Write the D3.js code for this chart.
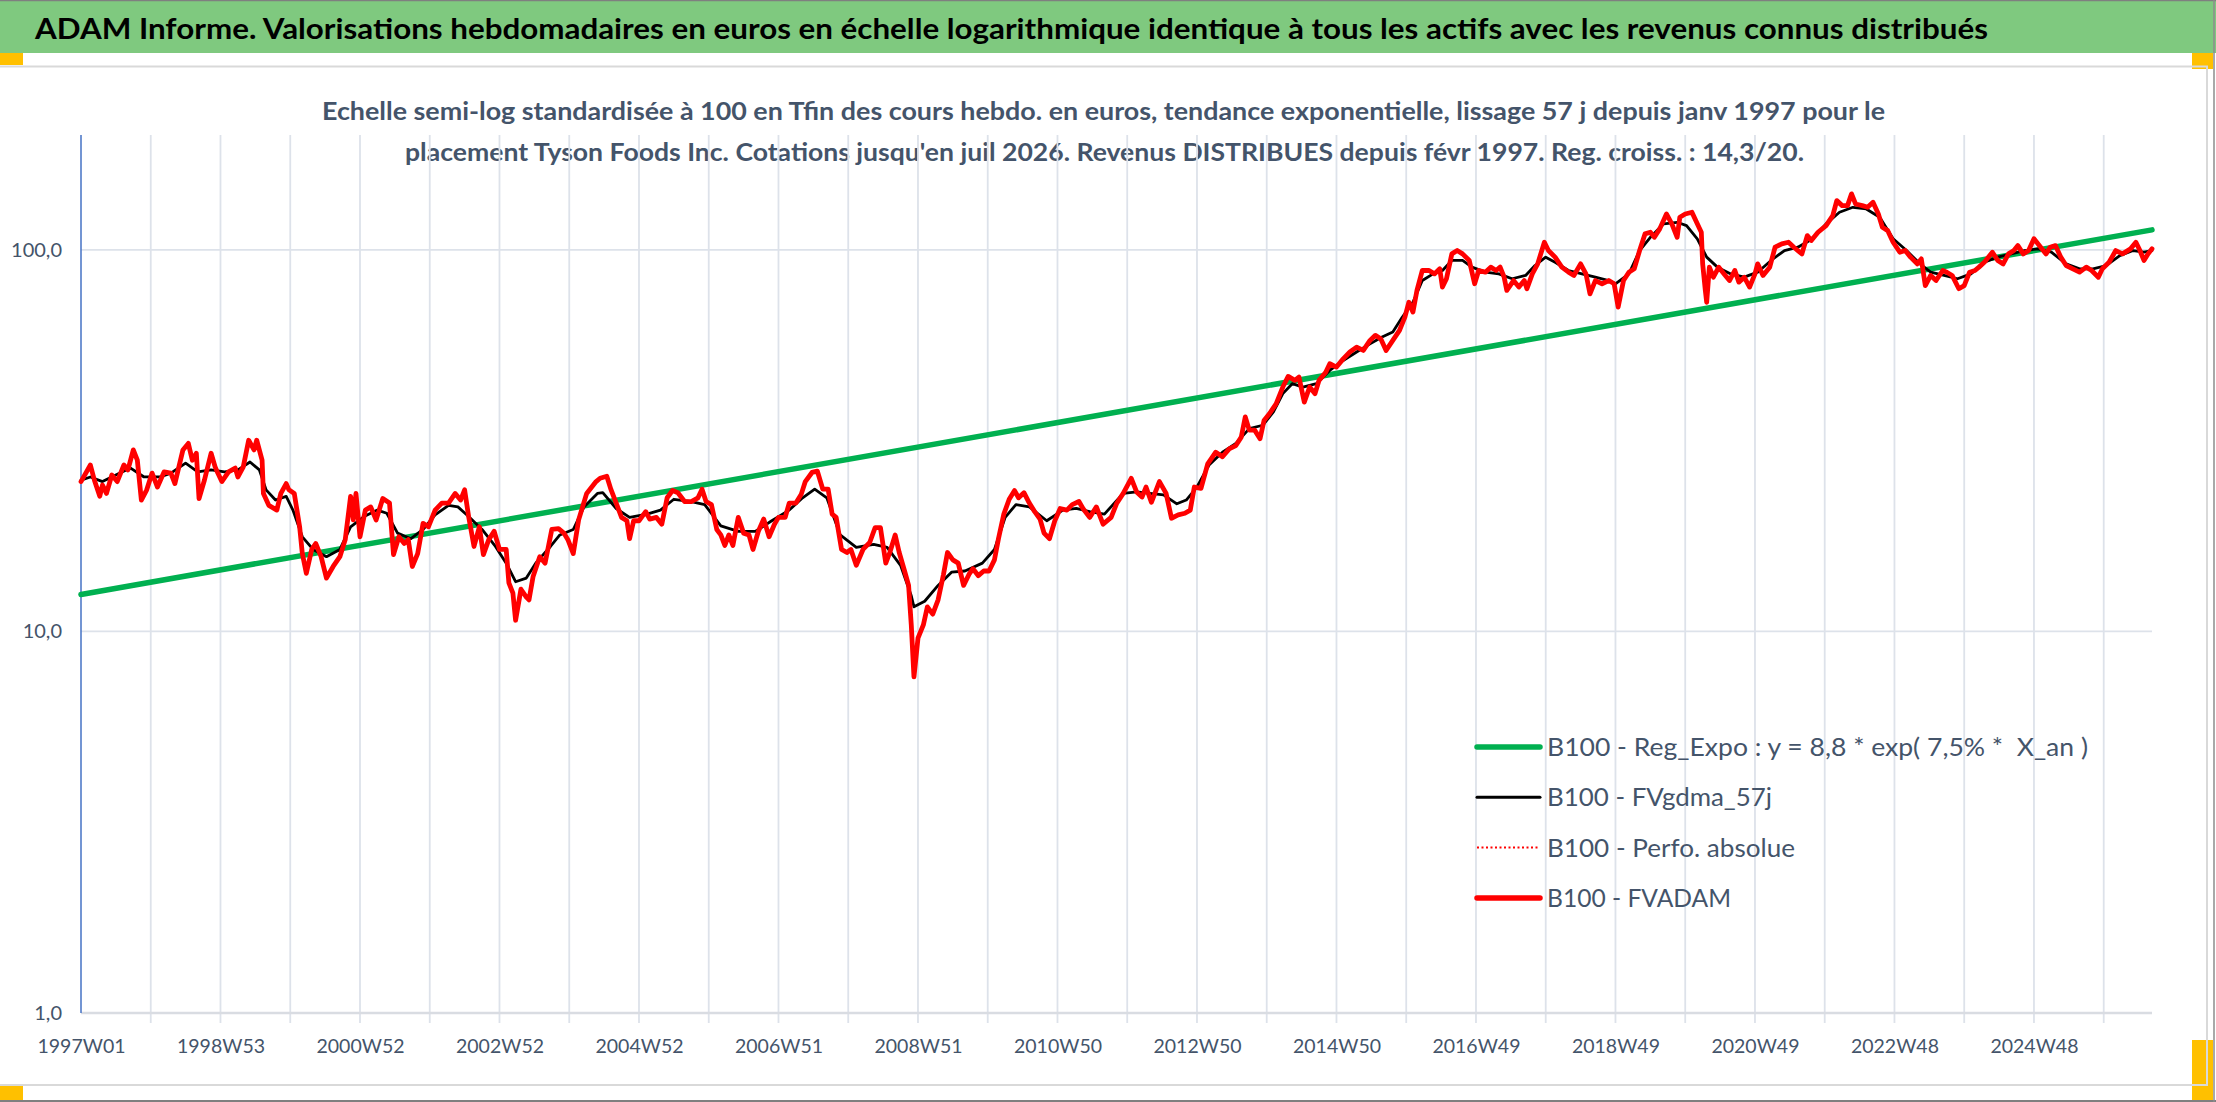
<!DOCTYPE html>
<html>
<head>
<meta charset="utf-8">
<script src="https://cdn.jsdelivr.net/npm/d3@7/dist/d3.min.js"></script>
<style>
  html, body { margin: 0; padding: 0; background: #fff; overflow: hidden; }
  svg text { white-space: pre; }
</style>
</head>
<body>
<div id="chart"></div>
<script>
const titleText = "ADAM Informe. Valorisations hebdomadaires en euros en échelle logarithmique identique à tous les actifs avec les revenus connus distribués"
const subtitleLines = [
    "Echelle semi-log standardisée à 100 en Tfin des cours hebdo. en euros, tendance exponentielle, lissage 57 j depuis janv 1997 pour le",
    "placement Tyson Foods Inc. Cotations jusqu'en juil 2026. Revenus DISTRIBUES depuis févr 1997. Reg. croiss. : 14,3/20."
]
const tickLabels = ["1997W01", "1998W53", "2000W52", "2002W52", "2004W52", "2006W51", "2008W51", "2010W50",
    "2012W50", "2014W50", "2016W49", "2018W49", "2020W49", "2022W48", "2024W48"]
const tickWeeks = [0, 104, 208, 312, 416, 520, 624, 728, 832, 936, 1040, 1144, 1248, 1352, 1456]
const lastWeek = 1544
const yTicks = [1, 10, 100]
const yTickLabels = ["1,0", "10,0", "100,0"]
const legendLabels = [
    "B100 - Reg_Expo : y = 8,8 * exp( 7,5% *  X_an )",
    "B100 - FVgdma_57j",
    "B100 - Perfo. absolue",
    "B100 - FVADAM"
]

// tendance exponentielle (droite en semi-log)
const trendWeeks = [0, 1544]
const trendValues = [12.5, 112.8]

// FVgdma_57j (lissage)
const blackWeeks = [0, 7, 16, 29, 37, 47, 59, 67, 78, 87, 97, 107, 117, 126, 133, 138, 145, 153, 158, 165,
    173, 183, 193, 201, 211, 221, 228, 236, 246, 255, 264, 274, 281, 289, 299, 309, 317, 324, 332, 339,
    350, 357, 367, 375, 385, 389, 399, 409, 422, 432, 442, 455, 465, 477, 490, 503, 515, 528, 538, 547,
    556, 566, 578, 591, 601, 611, 619, 621, 629, 639, 649, 659, 672, 681, 689, 697, 707, 720, 732, 742,
    752, 763, 777, 787, 797, 807, 817, 824, 832, 841, 851, 861, 871, 881, 889, 896, 903, 911, 921, 931,
    941, 951, 961, 970, 978, 985, 993, 1000, 1008, 1015, 1022, 1030, 1037, 1047, 1057, 1067, 1077, 1084, 1092, 1099,
    1109, 1119, 1129, 1139, 1144, 1154, 1162, 1170, 1180, 1190, 1197, 1205, 1212, 1220, 1230, 1240, 1250, 1260, 1270, 1280,
    1291, 1301, 1311, 1321, 1331, 1341, 1351, 1361, 1371, 1379, 1389, 1399, 1409, 1419, 1429, 1439, 1449, 1459, 1469, 1480,
    1490, 1500, 1510, 1520, 1530, 1538, 1544]
const blackValues = [24.9, 25.4, 24.7, 26.0, 26.8, 25.4, 25.4, 26.0, 27.6, 26.2, 26.5, 26.2, 26.5, 27.8, 26.5, 23.5, 22.1, 22.6, 20.8, 17.7,
    16.4, 15.7, 16.4, 18.8, 20.0, 20.8, 20.4, 18.1, 17.5, 18.5, 20.2, 21.4, 21.2, 20.0, 18.5, 16.7, 15.1, 13.5, 13.8, 15.1,
    16.7, 17.9, 18.5, 21.2, 23.0, 23.1, 21.0, 19.9, 20.3, 20.8, 22.2, 21.9, 21.5, 18.9, 18.3, 18.3, 19.5, 20.8, 22.4, 23.6,
    22.4, 17.9, 16.6, 16.9, 16.6, 14.9, 12.4, 11.6, 12.0, 13.2, 14.3, 14.4, 15.1, 16.4, 19.9, 21.5, 21.2, 19.5, 20.8, 21.0,
    20.6, 20.3, 23.0, 23.2, 23.0, 22.8, 21.6, 22.1, 23.9, 27.3, 29.5, 31.1, 34.0, 34.7, 37.6, 42.0, 44.6, 43.7, 44.6, 48.3,
    51.3, 54.0, 56.7, 59.1, 60.9, 66.6, 72.9, 83.1, 86.5, 88.3, 93.8, 93.8, 90.1, 87.4, 86.5, 84.0, 85.7, 91.0, 95.7, 92.8,
    88.3, 86.5, 84.8, 83.1, 81.5, 86.5, 99.6, 107.9, 117.0, 118.1, 115.8, 106.9, 95.7, 90.1, 86.5, 84.8, 87.4, 93.8, 99.6, 101.6,
    106.9, 117.0, 125.5, 129.3, 128.0, 121.8, 106.9, 99.6, 91.9, 87.4, 85.7, 84.0, 86.5, 92.8, 95.7, 97.6, 99.6, 100.6, 98.6, 91.9,
    89.2, 89.2, 91.0, 96.6, 99.6, 98.6, 99.6]

// FVADAM (et Perfo. absolue, confondue)
const redWeeks = [0, 7, 10, 14, 16, 19, 23, 27, 32, 35, 39, 42, 45, 49, 53, 57, 62, 67, 70, 76,
    80, 83, 86, 88, 92, 97, 100, 102, 105, 110, 115, 117, 121, 125, 129, 131, 135, 136, 140, 146,
    149, 153, 155, 159, 163, 165, 168, 172, 175, 179, 183, 188, 193, 197, 201, 203, 205, 208, 212, 216,
    220, 225, 230, 233, 237, 241, 244, 247, 251, 255, 259, 264, 269, 274, 279, 283, 286, 289, 293, 297,
    300, 304, 308, 312, 317, 319, 322, 324, 328, 332, 334, 337, 342, 346, 351, 356, 360, 363, 367, 371,
    377, 384, 387, 392, 395, 399, 403, 407, 409, 412, 416, 421, 424, 429, 433, 437, 441, 445, 450, 455,
    460, 463, 466, 470, 474, 477, 480, 483, 486, 490, 494, 498, 501, 505, 509, 513, 517, 520, 525, 528,
    533, 537, 540, 545, 549, 553, 557, 560, 563, 567, 571, 574, 578, 583, 588, 592, 596, 600, 603, 607,
    610, 614, 617, 619, 621, 624, 628, 631, 635, 639, 643, 646, 650, 654, 658, 662, 665, 669, 673, 677,
    681, 684, 688, 692, 696, 699, 703, 707, 711, 715, 718, 722, 726, 730, 735, 739, 744, 747, 752, 757,
    762, 768, 772, 777, 783, 787, 791, 794, 798, 804, 809, 813, 818, 823, 827, 830, 835, 840, 846, 851,
    856, 861, 865, 868, 871, 875, 879, 882, 886, 891, 896, 900, 905, 908, 912, 916, 920, 923, 928, 931,
    936, 941, 946, 951, 956, 961, 965, 969, 973, 978, 983, 987, 990, 993, 996, 1000, 1005, 1009, 1013, 1015,
    1018, 1022, 1026, 1030, 1035, 1039, 1042, 1047, 1051, 1055, 1058, 1061, 1063, 1068, 1072, 1076, 1078, 1082, 1086, 1091,
    1094, 1099, 1104, 1109, 1113, 1118, 1122, 1125, 1129, 1134, 1139, 1143, 1146, 1150, 1154, 1158, 1162, 1166, 1170, 1173,
    1177, 1182, 1186, 1190, 1192, 1196, 1201, 1205, 1208, 1209, 1211, 1212, 1214, 1217, 1221, 1225, 1229, 1233, 1236, 1240,
    1244, 1248, 1250, 1254, 1259, 1263, 1268, 1273, 1277, 1280, 1283, 1287, 1290, 1295, 1301, 1306, 1309, 1313, 1317, 1320,
    1323, 1328, 1332, 1336, 1340, 1343, 1347, 1351, 1356, 1360, 1364, 1369, 1372, 1375, 1379, 1383, 1388, 1391, 1395, 1400,
    1404, 1408, 1412, 1415, 1419, 1425, 1429, 1433, 1437, 1441, 1444, 1448, 1452, 1456, 1461, 1465, 1468, 1472, 1476, 1480,
    1485, 1490, 1495, 1499, 1504, 1507, 1512, 1517, 1522, 1528, 1532, 1535, 1538, 1541, 1544]
const redValues = [24.7, 27.3, 24.9, 22.6, 24.2, 23.0, 25.7, 24.7, 27.3, 26.5, 29.9, 28.1, 22.1, 23.5, 26.0, 23.9, 26.2, 26.0, 24.4, 29.9,
    31.1, 28.1, 29.3, 22.3, 24.9, 29.3, 27.0, 26.0, 24.7, 26.2, 26.8, 25.4, 27.0, 31.7, 29.9, 31.7, 28.1, 23.0, 21.4, 20.8,
    23.0, 24.4, 23.5, 23.0, 18.8, 16.0, 14.2, 16.4, 17.0, 15.7, 13.8, 14.8, 15.7, 17.4, 22.6, 19.6, 23.0, 17.7, 20.8, 21.2,
    19.6, 22.3, 21.7, 15.9, 17.7, 17.0, 17.4, 14.8, 16.0, 19.2, 18.8, 20.8, 21.7, 21.7, 23.0, 22.1, 23.5, 20.0, 16.7, 18.8,
    15.9, 17.4, 18.3, 16.4, 16.4, 13.4, 12.6, 10.7, 12.9, 12.3, 12.1, 13.9, 15.7, 15.1, 18.5, 18.6, 18.1, 17.4, 16.0, 19.6,
    23.0, 24.7, 25.2, 25.5, 23.6, 21.7, 19.9, 19.5, 17.5, 19.5, 19.5, 20.6, 19.7, 19.9, 19.1, 22.4, 23.4, 23.1, 21.9, 21.9,
    22.4, 23.6, 21.9, 21.5, 18.5, 17.9, 16.8, 17.9, 16.8, 19.9, 18.1, 17.9, 16.4, 18.3, 19.7, 17.7, 19.1, 19.9, 19.9, 21.7,
    21.7, 22.9, 24.7, 26.1, 26.3, 23.6, 23.6, 20.3, 19.9, 16.4, 16.1, 16.4, 14.9, 16.4, 17.1, 18.7, 18.7, 15.1, 16.1, 17.9,
    16.1, 14.4, 13.2, 10.4, 7.6, 9.6, 10.4, 11.6, 11.1, 12.1, 14.1, 16.1, 15.4, 15.1, 13.2, 14.1, 14.6, 14.0, 14.4, 14.4,
    15.4, 17.5, 20.3, 22.2, 23.4, 22.4, 23.1, 21.7, 20.6, 19.7, 18.1, 17.5, 19.5, 21.0, 20.8, 21.5, 21.9, 21.0, 19.9, 21.2,
    19.1, 19.9, 21.6, 23.0, 25.2, 23.2, 22.5, 23.9, 21.8, 24.7, 23.0, 19.8, 20.2, 20.4, 20.8, 23.9, 23.7, 27.5, 29.5, 28.7,
    30.1, 30.7, 32.3, 36.5, 33.7, 33.7, 32.0, 35.7, 37.2, 39.5, 43.7, 46.6, 45.5, 46.4, 39.9, 43.7, 42.0, 45.5, 47.8, 50.3,
    49.3, 51.8, 54.0, 55.6, 54.5, 57.9, 59.7, 58.5, 54.5, 57.9, 61.5, 66.6, 72.9, 68.7, 78.3, 88.3, 88.3, 86.5, 89.2, 79.9,
    84.0, 97.6, 99.6, 97.6, 93.8, 81.5, 88.3, 87.4, 90.1, 88.3, 90.1, 84.8, 78.3, 83.1, 79.9, 83.1, 79.1, 86.5, 91.9, 104.7,
    99.6, 95.7, 90.1, 87.4, 85.7, 91.9, 86.5, 76.7, 83.1, 81.5, 83.1, 81.5, 70.8, 83.1, 87.4, 89.2, 99.6, 110.1, 111.2, 107.9,
    113.5, 124.2, 117.0, 107.9, 121.8, 124.2, 125.5, 117.0, 111.2, 91.9, 78.3, 72.9, 90.1, 84.8, 90.1, 86.5, 83.1, 88.3, 82.3, 84.8,
    79.9, 86.5, 91.9, 85.7, 90.1, 101.6, 103.7, 104.7, 101.6, 99.6, 97.6, 109.0, 105.8, 111.2, 115.8, 123.0, 134.6, 130.6, 130.6, 140.2,
    131.9, 130.6, 129.3, 133.3, 124.2, 114.6, 112.3, 104.7, 98.6, 99.6, 95.7, 91.9, 94.7, 80.6, 85.7, 83.1, 88.3, 87.4, 85.7, 79.1,
    80.6, 87.4, 88.3, 90.1, 92.8, 98.6, 93.8, 91.9, 97.6, 99.6, 102.6, 97.6, 99.6, 106.9, 101.6, 97.6, 101.6, 102.6, 95.7, 91.0,
    89.2, 87.4, 90.1, 88.3, 84.8, 89.2, 92.8, 99.6, 97.6, 100.6, 104.7, 99.6, 93.8, 97.6, 100.6]

const W = 2216, H = 1102
const font = "Lato, 'Liberation Sans', sans-serif"
const textCol = '#44546A'
const gridCol = '#dde2ea'

let svg = d3.select('#chart').append('svg')
    .attr('width', W)
    .attr('height', H)
    .style('display', 'block')
    .style('background', '#fff')

// cadre
svg.append('rect').attr('x', 0).attr('y', 0).attr('width', W).attr('height', 53).attr('fill', '#7fc97f')
svg.append('line').attr('x1', 0).attr('x2', W).attr('y1', 0.5).attr('y2', 0.5).attr('stroke', '#7f7f7f').attr('stroke-width', 1.5)
svg.append('line').attr('x1', 0).attr('x2', W).attr('y1', H - 1).attr('y2', H - 1).attr('stroke', '#7f7f7f').attr('stroke-width', 2)
svg.append('line').attr('x1', W - 2).attr('x2', W - 2).attr('y1', 0).attr('y2', H).attr('stroke', '#8c8c8c').attr('stroke-width', 1.5)
svg.append('rect').attr('x', 0).attr('y', 53).attr('width', 23).attr('height', 12).attr('fill', '#ffc000')
svg.append('rect').attr('x', 2192).attr('y', 53).attr('width', 21).attr('height', 16).attr('fill', '#ffc000')
svg.append('rect').attr('x', 2192).attr('y', 1040).attr('width', 21).attr('height', 60).attr('fill', '#ffc000')
svg.append('rect').attr('x', 0).attr('y', 1086).attr('width', 23).attr('height', 14).attr('fill', '#ffc000')
svg.append('path')
    .attr('d', 'M0,66.5 H2207 V1085 H0')
    .attr('fill', 'none')
    .attr('stroke', '#d9d9d9')
    .attr('stroke-width', 2)

svg.append('text')
    .attr('x', 35)
    .attr('y', 39)
    .attr('font-family', font)
    .attr('font-weight', 'bold')
    .attr('font-size', 29)
    .attr('fill', '#000')
    .attr('textLength', 1953)
    .attr('lengthAdjust', 'spacingAndGlyphs')
    .text(titleText)

let subX = [322, 405], subY = [120, 161], subW = [1563, 1399]
subtitleLines.forEach((t, i)=>{
    svg.append('text')
        .attr('x', subX[i])
        .attr('y', subY[i])
        .attr('font-family', font)
        .attr('font-weight', 'bold')
        .attr('font-size', 25)
        .attr('fill', textCol)
        .attr('textLength', subW[i])
        .attr('lengthAdjust', 'spacingAndGlyphs')
        .text(t)
})

// zone de tracé
let margin = {left: 81, right: 2152, top: 135, bottom: 1013}
let scX = d3.scaleLinear().domain([0, lastWeek]).range([margin.left, margin.right])
let scY = d3.scaleLog().domain([1, 200]).range([margin.bottom, margin.top])

let grid = svg.append('g')
grid.selectAll('line.v')
    .data(d3.range(52, lastWeek, 52))
    .enter()
    .append('line')
    .attr('class', 'v')
    .attr('x1', d=>scX(d)).attr('x2', d=>scX(d))
    .attr('y1', margin.top).attr('y2', margin.bottom + 10)
    .attr('stroke', gridCol)
    .attr('stroke-width', 1.8)
grid.selectAll('line.h')
    .data([10, 100])
    .enter()
    .append('line')
    .attr('class', 'h')
    .attr('x1', margin.left).attr('x2', margin.right)
    .attr('y1', d=>scY(d)).attr('y2', d=>scY(d))
    .attr('stroke', gridCol)
    .attr('stroke-width', 1.8)

// axe X
let xAxis = d3.axisBottom(scX)
    .tickValues(tickWeeks)
    .tickFormat((d, i)=>tickLabels[i])
    .tickSize(0)
    .tickPadding(30)
let gx = svg.append('g')
    .attr('transform', `translate(0, ${margin.bottom})`)
    .call(xAxis)
gx.select('.domain').remove()
gx.selectAll('text')
    .attr('font-family', font)
    .attr('font-size', 19.5)
    .attr('fill', textCol)
    .attr('dy', '0.5em')
svg.append('line')
    .attr('x1', margin.left).attr('x2', margin.right)
    .attr('y1', margin.bottom).attr('y2', margin.bottom)
    .attr('stroke', '#d9dce2')
    .attr('stroke-width', 2.5)

// axe Y
let yAxis = d3.axisLeft(scY)
    .tickValues(yTicks)
    .tickFormat((d, i)=>yTickLabels[i])
    .tickSize(0)
    .tickPadding(19)
let gy = svg.append('g')
    .attr('transform', `translate(${margin.left}, 0)`)
    .call(yAxis)
gy.select('.domain').remove()
gy.selectAll('text')
    .attr('font-family', font)
    .attr('font-size', 20)
    .attr('fill', textCol)
svg.append('line')
    .attr('x1', margin.left).attr('x2', margin.left)
    .attr('y1', margin.top).attr('y2', margin.bottom)
    .attr('stroke', '#4472c4')
    .attr('stroke-width', 1.5)

// séries
let line = d3.line()
    .x(d=>scX(d[0]))
    .y(d=>scY(d[1]))
let zip = (a, b)=>a.map((w, i)=>[w, b[i]])

let plot = svg.append('g')
    .attr('fill', 'none')
    .attr('stroke-linejoin', 'round')
    .attr('stroke-linecap', 'round')
plot.append('path')
    .attr('d', line(zip(trendWeeks, trendValues)))
    .attr('stroke', '#00b050')
    .attr('stroke-width', 5.5)
plot.append('path')
    .attr('d', line(zip(blackWeeks, blackValues)))
    .attr('stroke', '#000')
    .attr('stroke-width', 2.8)
plot.append('path')
    .attr('d', line(zip(redWeeks, redValues)))
    .attr('stroke', '#ff0000')
    .attr('stroke-width', 1.5)
    .attr('stroke-dasharray', '2,3')
plot.append('path')
    .attr('d', line(zip(redWeeks, redValues)))
    .attr('stroke', '#ff0000')
    .attr('stroke-width', 4.8)

// légende
let legStyle = [
    {color: '#00b050', width: 5.5, dash: null, len: 541},
    {color: '#000', width: 3, dash: null, len: 225},
    {color: '#ff0000', width: 2, dash: '2,2.5', len: 248},
    {color: '#ff0000', width: 5.5, dash: null, len: 184}
]
let leg = svg.append('g').attr('transform', 'translate(1477, 747)')
legendLabels.forEach((t, i)=>{
    let s = legStyle[i]
    leg.append('line')
        .attr('x1', 0).attr('x2', 63)
        .attr('y1', i * 50.3).attr('y2', i * 50.3)
        .attr('stroke', s.color)
        .attr('stroke-width', s.width)
        .attr('stroke-linecap', s.dash ? 'butt' : 'round')
        .attr('stroke-dasharray', s.dash)
    leg.append('text')
        .attr('x', 70)
        .attr('y', i * 50.3 + 9)
        .attr('font-family', font)
        .attr('font-size', 25)
        .attr('fill', textCol)
        .attr('textLength', s.len)
        .attr('lengthAdjust', 'spacingAndGlyphs')
        .text(t)
})
</script>
</body>
</html>
